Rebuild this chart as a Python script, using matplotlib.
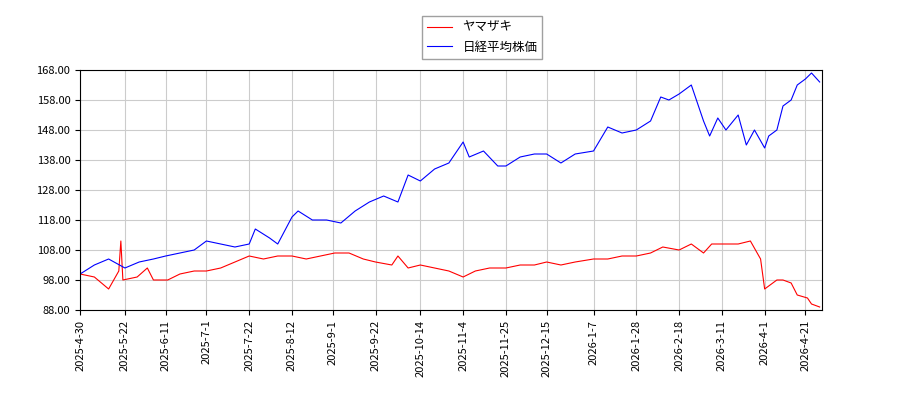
import matplotlib
matplotlib.use("Agg")
import matplotlib.pyplot as plt
import pandas as pd

plt.rcParams['font.family'] = ['Noto Sans CJK JP', 'DejaVu Sans']

blue_dates = ["2025-04-30","2025-05-07","2025-05-14","2025-05-22","2025-05-29","2025-06-05","2025-06-11","2025-06-18","2025-06-25","2025-07-01","2025-07-08","2025-07-15","2025-07-22","2025-07-25","2025-08-01","2025-08-05","2025-08-12","2025-08-15","2025-08-22","2025-08-29","2025-09-05","2025-09-12","2025-09-19","2025-09-26","2025-10-03","2025-10-08","2025-10-14","2025-10-21","2025-10-28","2025-11-04","2025-11-07","2025-11-14","2025-11-21","2025-11-25","2025-12-02","2025-12-09","2025-12-15","2025-12-22","2025-12-29","2026-01-07","2026-01-14","2026-01-21","2026-01-28","2026-02-04","2026-02-09","2026-02-13","2026-02-18","2026-02-24","2026-03-02","2026-03-05","2026-03-09","2026-03-13","2026-03-19","2026-03-23","2026-03-27","2026-04-01","2026-04-03","2026-04-07","2026-04-10","2026-04-14","2026-04-17","2026-04-21","2026-04-24","2026-04-28"]
blue_vals = [100,103,105,102,104,105,106,107,108,111,110,109,110,115,112,110,119,121,118,118,117,121,124,126,124,133,131,135,137,144,139,141,136,136,139,140,140,137,140,141,149,147,148,151,159,158,160,163,151,146,152,148,153,143,148,142,146,148,156,158,163,165,167,164]

red_dates = ["2025-04-30","2025-05-07","2025-05-14","2025-05-19","2025-05-20","2025-05-21","2025-05-28","2025-06-02","2025-06-05","2025-06-12","2025-06-18","2025-06-25","2025-07-01","2025-07-08","2025-07-15","2025-07-22","2025-07-29","2025-08-05","2025-08-12","2025-08-19","2025-08-26","2025-09-02","2025-09-09","2025-09-16","2025-09-22","2025-09-30","2025-10-03","2025-10-08","2025-10-14","2025-10-21","2025-10-28","2025-11-04","2025-11-10","2025-11-17","2025-11-25","2025-12-02","2025-12-09","2025-12-15","2025-12-22","2025-12-29","2026-01-07","2026-01-14","2026-01-21","2026-01-28","2026-02-04","2026-02-10","2026-02-18","2026-02-24","2026-03-02","2026-03-06","2026-03-12","2026-03-19","2026-03-25","2026-03-30","2026-04-01","2026-04-07","2026-04-10","2026-04-14","2026-04-17","2026-04-22","2026-04-24","2026-04-28"]
red_vals = [100,99,95,101,111,98,99,102,98,98,100,101,101,102,104,106,105,106,106,105,106,107,107,105,104,103,106,102,103,102,101,99,101,102,102,103,103,104,103,104,105,105,106,106,107,109,108,110,107,110,110,110,111,105,95,98,98,97,93,92,90,89]

yticks = [88,98,108,118,128,138,148,158,168]
xticks = ["2025-04-30","2025-05-22","2025-06-11","2025-07-01","2025-07-22","2025-08-12","2025-09-01","2025-09-22","2025-10-14","2025-11-04","2025-11-25","2025-12-15","2026-01-07","2026-01-28","2026-02-18","2026-03-11","2026-04-01","2026-04-21"]

fig = plt.figure(figsize=(9,4), dpi=100)
ax = fig.add_axes([0.089,0.225,0.824,0.6])
ax.plot(pd.to_datetime(red_dates), red_vals, color='red', lw=0.8, label='ヤマザキ')
ax.plot(pd.to_datetime(blue_dates), blue_vals, color='blue', lw=0.8, label='日経平均株価')
ax.set_ylim(88,168)
ax.set_yticks(yticks)
ax.set_yticklabels([f"{v:.2f}" for v in yticks], fontsize=8)
xt = pd.to_datetime(xticks)
ax.set_xticks(xt)
ax.set_xticklabels([f"{d.year}-{d.month}-{d.day}" for d in xt], rotation=90, fontsize=8)
ax.set_xlim(pd.Timestamp("2025-04-30"), pd.Timestamp("2026-04-29"))
ax.grid(True, color='#cccccc', lw=0.8)
fig.legend(loc='upper center', bbox_to_anchor=(0.536,0.975), fontsize=9, fancybox=False, edgecolor='#888888')
fig.savefig("out.png")
